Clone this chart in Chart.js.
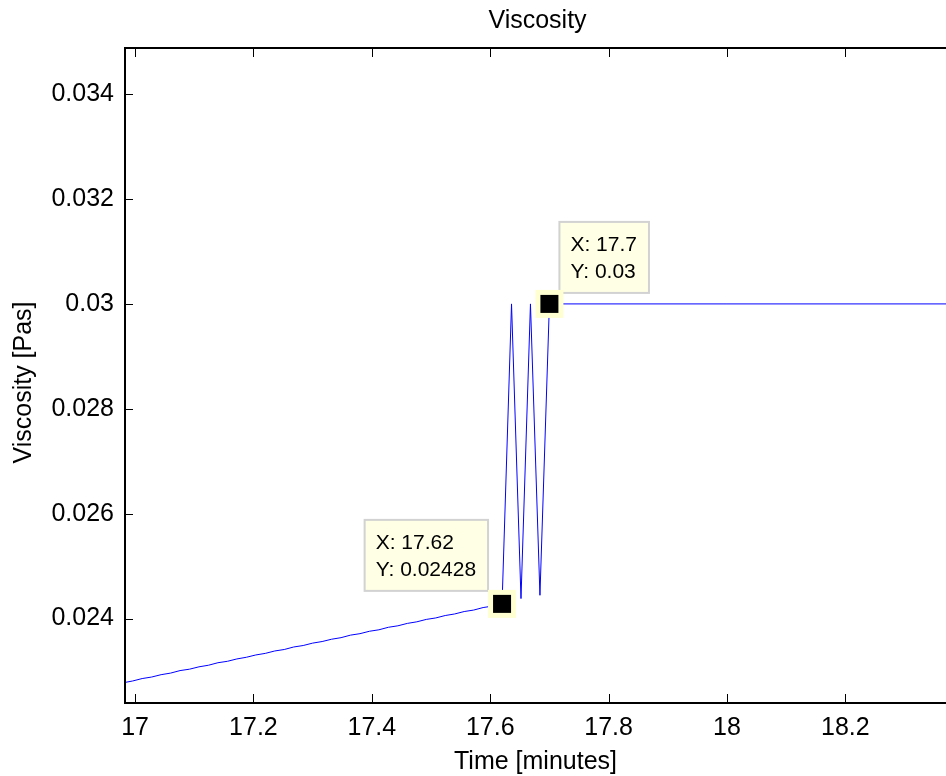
<!DOCTYPE html>
<html>
<head>
<meta charset="utf-8">
<script src="https://cdn.jsdelivr.net/npm/chart.js@4"></script>
<style>
  body { margin: 0; background: #fff; }
  #wrap { width: 946px; height: 776px; }
</style>
</head>
<body>
<div id="wrap"><canvas id="chart" width="946" height="776"></canvas></div>
<script>
var fontFamily = '"Liberation Sans", Arial, Helvetica, sans-serif';

// time in minutes, sampled about once a second
var timeMin = [
    16.980, 16.996, 17.012, 17.028, 17.044, 17.060, 17.076, 17.092, 17.108, 17.124,
    17.140, 17.156, 17.172, 17.188, 17.204, 17.220, 17.236, 17.252, 17.268, 17.284,
    17.300, 17.316, 17.332, 17.348, 17.364, 17.380, 17.396, 17.412, 17.428, 17.444,
    17.460, 17.476, 17.492, 17.508, 17.524, 17.540, 17.556, 17.572, 17.588, 17.604,
    17.620, 17.636, 17.652, 17.668, 17.684, 17.700, 18.000, 18.400
];
var viscosity = [
    0.022776, 0.022810, 0.022856, 0.022885, 0.022930, 0.022960, 0.023008, 0.023035, 0.023080, 0.023110,
    0.023158, 0.023185, 0.023230, 0.023262, 0.023306, 0.023336, 0.023382, 0.023410, 0.023458, 0.023486,
    0.023532, 0.023562, 0.023606, 0.023636, 0.023684, 0.023712, 0.023758, 0.023786, 0.023834, 0.023862,
    0.023908, 0.023938, 0.023984, 0.024012, 0.024058, 0.024088, 0.024134, 0.024162, 0.024210, 0.024238,
    0.024280, 0.030000, 0.024381, 0.030000, 0.024444, 0.030000, 0.030000, 0.030000
];

var xTicks = [17, 17.2, 17.4, 17.6, 17.8, 18, 18.2];
var yTicks = [0.024, 0.026, 0.028, 0.030, 0.032, 0.034];

// data tips
var tipX = [17.62, 17.7];
var tipY = [0.02428, 0.03];
var tipXText = ['17.62', '17.7'];
var tipYText = ['0.02428', '0.03'];

var points = timeMin.map(function (t, i) { return { x: t, y: viscosity[i] }; });

function line(ctx, x1, y1, x2, y2) {
    ctx.beginPath();
    ctx.moveTo(x1, y1);
    ctx.lineTo(x2, y2);
    ctx.stroke();
}

var matlabLook = {
    id: 'matlabLook',
    afterDraw: function (chart) {
        var ctx = chart.ctx;
        var a = chart.chartArea;
        var xs = chart.scales.x, ys = chart.scales.y;
        ctx.save();

        // inward ticks
        ctx.strokeStyle = '#000';
        ctx.lineWidth = 1;
        xs.ticks.forEach(function (t) {
            var px = Math.round(xs.getPixelForValue(t.value)) + 0.5;
            line(ctx, px, a.bottom, px, a.bottom - 9);
            line(ctx, px, a.top, px, a.top + 9);
        });
        ys.ticks.forEach(function (t) {
            var py = Math.round(ys.getPixelForValue(t.value)) + 0.5;
            line(ctx, a.left, py, a.left + 8, py);
        });

        // axes box (right side lies at the window edge)
        ctx.lineWidth = 2;
        ctx.beginPath();
        ctx.moveTo(a.right, a.top);
        ctx.lineTo(a.left, a.top);
        ctx.lineTo(a.left, a.bottom);
        ctx.lineTo(a.right, a.bottom);
        ctx.stroke();

        // title and axis labels
        ctx.fillStyle = '#000';
        ctx.font = '25px ' + fontFamily;
        ctx.textAlign = 'center';
        ctx.textBaseline = 'alphabetic';
        var cx = (a.left + a.right) / 2;
        ctx.fillText('Viscosity', cx + 2, 28);
        ctx.fillText('Time [minutes]', cx, 769);
        ctx.save();
        ctx.translate(31, (a.top + a.bottom) / 2 + 7);
        ctx.rotate(-Math.PI / 2);
        ctx.fillText('Viscosity [Pas]', 0, 0);
        ctx.restore();

        // data tips
        ctx.font = '21px ' + fontFamily;
        ctx.textAlign = 'left';
        for (var i = 0; i < tipX.length; i++) {
            var mx = xs.getPixelForValue(tipX[i]);
            var my = ys.getPixelForValue(tipY[i]);
            var l1 = 'X: ' + tipXText[i];
            var l2 = 'Y: ' + tipYText[i];
            var w = Math.max(ctx.measureText(l1).width, ctx.measureText(l2).width) + 23;
            var h = 71;
            var bx, by;
            if (i === 0) { bx = mx - 14 - w; by = my - 84; }
            else { bx = mx + 10; by = my - 82; }
            ctx.fillStyle = '#ffffe6';
            ctx.fillRect(bx, by, w, h);
            ctx.strokeStyle = '#d2d2d2';
            ctx.lineWidth = 2;
            ctx.strokeRect(bx, by, w, h);
            ctx.fillStyle = '#000';
            ctx.fillText(l1, bx + 11, by + 29);
            ctx.fillText(l2, bx + 11, by + 56);

            ctx.fillStyle = '#ffffd2';
            ctx.fillRect(mx - 14, my - 14, 28, 28);
            ctx.fillStyle = '#000';
            ctx.fillRect(mx - 9, my - 9, 18, 18);
        }
        ctx.restore();
    }
};

var tickFont = { size: 25, family: fontFamily };

new Chart(document.getElementById('chart'), {
    type: 'scatter',
    data: {
        datasets: [{
            data: points,
            showLine: true,
            borderColor: '#0000ff',
            borderWidth: 1,
            pointRadius: 0,
            tension: 0
        }]
    },
    options: {
        responsive: false,
        animation: false,
        layout: { padding: { top: 48, left: 0, right: 0, bottom: 0 } },
        plugins: {
            legend: { display: false },
            tooltip: { enabled: false },
            title: { display: false }
        },
        scales: {
            x: {
                type: 'linear',
                min: 16.983,
                max: 18.37,
                afterBuildTicks: function (s) { s.ticks = xTicks.map(function (v) { return { value: v }; }); },
                afterFit: function (s) { s.height = 73; },
                grid: { display: false, drawTicks: false },
                border: { display: false },
                ticks: {
                    color: '#000',
                    font: tickFont,
                    padding: 10,
                    maxRotation: 0,
                    autoSkip: false,
                    callback: function (v) { return String(+v.toFixed(2)); }
                }
            },
            y: {
                type: 'linear',
                min: 0.02239,
                max: 0.03488,
                afterBuildTicks: function (s) { s.ticks = yTicks.map(function (v) { return { value: v }; }); },
                afterFit: function (s) { s.width = 125; },
                grid: { display: false, drawTicks: false },
                border: { display: false },
                ticks: {
                    color: '#000',
                    font: tickFont,
                    padding: 11,
                    autoSkip: false,
                    callback: function (v) { return String(+v.toFixed(4)); }
                }
            }
        }
    },
    plugins: [matlabLook]
});
</script>
</body>
</html>
